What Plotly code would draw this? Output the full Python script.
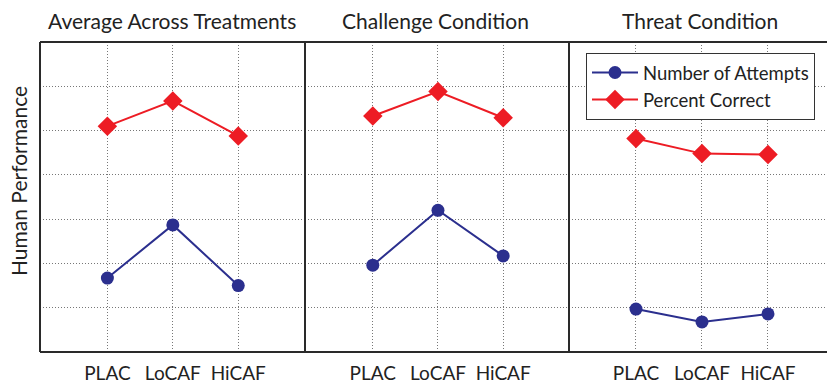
import plotly.graph_objects as go

categories = ["PLAC", "LoCAF", "HiCAF"]
panel_titles = ["Average Across Treatments", "Challenge Condition", "Threat Condition"]
attempts = [
    [1.67, 2.87, 1.50],
    [1.96, 3.20, 2.17],
    [0.97, 0.68, 0.86],
]
percent_correct = [
    [5.10, 5.67, 4.88],
    [5.33, 5.88, 5.29],
    [4.82, 4.48, 4.46],
]
series_names = ["Number of Attempts", "Percent Correct"]
y_label = "Human Performance"

W, H = 827, 387
FONT = "Lato"
BLUE = "#2B2F8E"
RED = "#ED1C24"
FRAME = "#2a2a2a"
GRID = "#777"
GRID_DASH = "1px,2px"

left_px, top_px, bottom_px = 40, 42, 352
dividers = [40, 305, 569, 827]
xranges = [[-1.03, 3.02], [-1.04, 3.01], [-1.015, 2.894]]

fig = go.Figure()
layout = dict(
    width=W, height=H, margin=dict(l=0, r=0, t=0, b=0),
    paper_bgcolor="white", plot_bgcolor="white",
    font=dict(family=FONT, size=20, color="#222"),
    showlegend=True,
)
ydom = [1 - bottom_px / H, 1 - top_px / H]
for i in range(3):
    sfx = "" if i == 0 else str(i + 1)
    xd = [dividers[i] / W, dividers[i + 1] / W]
    layout["xaxis" + sfx] = dict(
        domain=xd, range=xranges[i], tickvals=[0, 1, 2], ticktext=categories,
        showgrid=True, gridcolor=GRID, griddash=GRID_DASH, gridwidth=1,
        zeroline=False, showline=False, ticks="", ticklabelstandoff=8,
        tickfont=dict(family=FONT, size=19, color="#222"), anchor="y" + sfx,
        fixedrange=True,
    )
    layout["yaxis" + sfx] = dict(
        domain=ydom, range=[0, 7], tickvals=[1, 2, 3, 4, 5, 6],
        showticklabels=False, showgrid=True, gridcolor=GRID, griddash=GRID_DASH,
        gridwidth=1, zeroline=False, showline=False, ticks="", anchor="x" + sfx,
        fixedrange=True,
    )
    fig.add_trace(go.Scatter(
        x=[0, 1, 2], y=attempts[i], mode="lines+markers", name=series_names[0],
        line=dict(color=BLUE, width=2), marker=dict(symbol="circle", size=13, color=BLUE),
        xaxis="x" + sfx, yaxis="y" + sfx, showlegend=(i == 2),
    ))
    fig.add_trace(go.Scatter(
        x=[0, 1, 2], y=percent_correct[i], mode="lines+markers", name=series_names[1],
        line=dict(color=RED, width=2), marker=dict(symbol="diamond", size=15, color=RED),
        xaxis="x" + sfx, yaxis="y" + sfx, showlegend=(i == 2),
    ))

title_centers = [172, 435, 700]
annotations = []
for t, cx in zip(panel_titles, title_centers):
    annotations.append(dict(
        text=t, x=cx / W, y=1 - 20 / H, xref="paper", yref="paper",
        showarrow=False, xanchor="center", yanchor="middle",
        font=dict(family=FONT, size=21, color="#222"),
    ))
annotations.append(dict(
    text=y_label, x=18 / W, y=1 - 181 / H, xref="paper", yref="paper",
    showarrow=False, textangle=-90, xanchor="center", yanchor="middle",
    font=dict(family=FONT, size=21, color="#222"),
))

shapes = []
line_style = dict(color=FRAME, width=2)
shapes.append(dict(type="line", xref="paper", yref="paper",
                   x0=left_px / W, x1=1, y0=1 - top_px / H, y1=1 - top_px / H, line=line_style))
shapes.append(dict(type="line", xref="paper", yref="paper",
                   x0=left_px / W, x1=1, y0=1 - bottom_px / H, y1=1 - bottom_px / H, line=line_style))
for d in dividers[:3]:
    shapes.append(dict(type="line", xref="paper", yref="paper",
                       x0=d / W, x1=d / W, y0=1 - bottom_px / H, y1=1 - top_px / H, line=line_style))

layout["annotations"] = annotations
layout["shapes"] = shapes
layout["legend"] = dict(
    x=586 / W, y=1 - 53 / H, xanchor="left", yanchor="top",
    bgcolor="white", bordercolor="#333", borderwidth=1,
    font=dict(family=FONT, size=18.5, color="#222"),
    tracegroupgap=0, itemwidth=46,
)
fig.update_layout(**layout)
fig.write_html("out.html", config={"displayModeBar": False},
               post_script="document.body.style.margin='0px';")
